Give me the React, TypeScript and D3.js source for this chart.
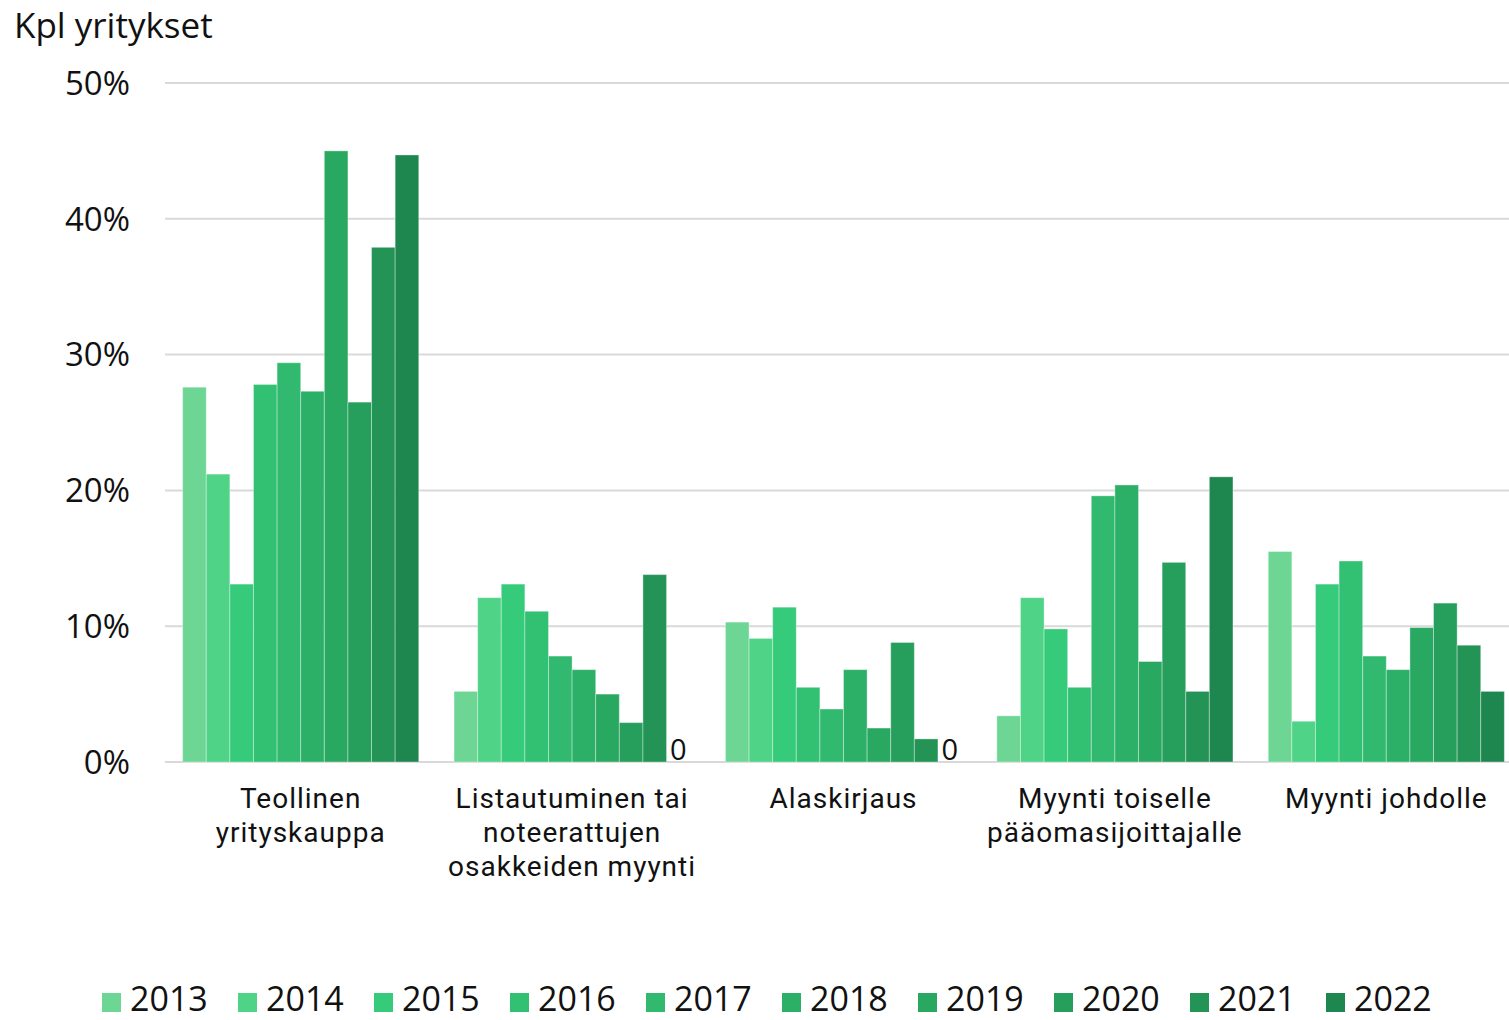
import React from "react";
import * as d3 from "d3";

const categories = [
  ["Teollinen", "yrityskauppa"],
  ["Listautuminen tai", "noteerattujen", "osakkeiden myynti"],
  ["Alaskirjaus"],
  ["Myynti toiselle", "pääomasijoittajalle"],
  ["Myynti johdolle"],
];
const years = ["2013", "2014", "2015", "2016", "2017", "2018", "2019", "2020", "2021", "2022"];
const colors = ["#6dd694", "#4fd387", "#35cb7a", "#32c073", "#31ba6f", "#2cb068", "#29a862", "#269e5c", "#239456", "#1e874f"];
// values per category, by year (%)
const teollinen = [27.6, 21.2, 13.1, 27.8, 29.4, 27.3, 45.0, 26.5, 37.9, 44.7];
const listautuminen = [5.2, 12.1, 13.1, 11.1, 7.8, 6.8, 5.0, 2.9, 13.8, 0];
const alaskirjaus = [10.3, 9.1, 11.4, 5.5, 3.9, 6.8, 2.5, 8.8, 1.7, 0];
const myyntiToiselle = [3.4, 12.1, 9.8, 5.5, 19.6, 20.4, 7.4, 14.7, 5.2, 21.0];
const myyntiJohdolle = [15.5, 3.0, 13.1, 14.8, 7.8, 6.8, 9.9, 11.7, 8.6, 5.2];
const seriesByCategory = [teollinen, listautuminen, alaskirjaus, myyntiToiselle, myyntiJohdolle];
const yTicks = [0, 10, 20, 30, 40, 50];

const W = 1509;
const H = 1020;
const FONT = "'Open Sans', Lato, sans-serif";
const LABEL_FONT = "Roboto, 'Open Sans', sans-serif";

export default function App() {
  const y = d3.scaleLinear().domain([0, 50]).range([762, 83]);
  const x0 = d3
    .scaleBand<number>()
    .domain(categories.map((_, i) => i))
    .range([165, 1522])
    .paddingInner(0.13)
    .paddingOuter(0.065);
  const x1 = d3.scaleBand<number>().domain(years.map((_, i) => i)).range([0, x0.bandwidth()]);

  return (
    <svg width={W} height={H} style={{ position: "absolute", left: 0, top: 0, background: "#fff" }} fontFamily={FONT}>
      <text x={14} y={38} fontSize={35} fill="#111">Kpl yritykset</text>
      {yTicks.map((t) => (
        <g key={t}>
          <line x1={165} x2={W} y1={y(t)} y2={y(t)} stroke="#d9d9d9" strokeWidth={2} />
          <text x={130} y={y(t)} dy="0.36em" textAnchor="end" fontSize={33} fill="#111">
            {t}%
          </text>
        </g>
      ))}
      {seriesByCategory.map((vals, ci) => (
        <g key={ci} transform={`translate(${x0(ci)},0)`}>
          {vals.map((v, yi) =>
            v > 0 ? (
              <rect
                key={yi}
                x={x1(yi)}
                y={y(v)}
                width={x1.bandwidth()}
                height={y(0) - y(v)}
                fill={colors[yi]}
                stroke="rgba(255,255,255,0.35)"
                strokeWidth={1}
              />
            ) : (
              <text key={yi} x={(x1(yi) as number) + x1.bandwidth() / 2} y={760} textAnchor="middle" fontSize={29} fill="#111">
                0
              </text>
            )
          )}
        </g>
      ))}
      {categories.map((lines, ci) => (
        <text key={ci} textAnchor="middle" fontSize={28} fill="#111" fontFamily={LABEL_FONT} letterSpacing={1}>
          {lines.map((l, li) => (
            <tspan key={li} x={(x0(ci) as number) + x0.bandwidth() / 2} y={808 + li * 34}>
              {l}
            </tspan>
          ))}
        </text>
      ))}
      {years.map((yr, i) => (
        <g key={yr} transform={`translate(${102 + i * 136},0)`}>
          <rect x={0} y={993} width={19} height={19} fill={colors[i]} />
          <text x={28} y={1011} fontSize={34} fill="#111">
            {yr}
          </text>
        </g>
      ))}
    </svg>
  );
}
